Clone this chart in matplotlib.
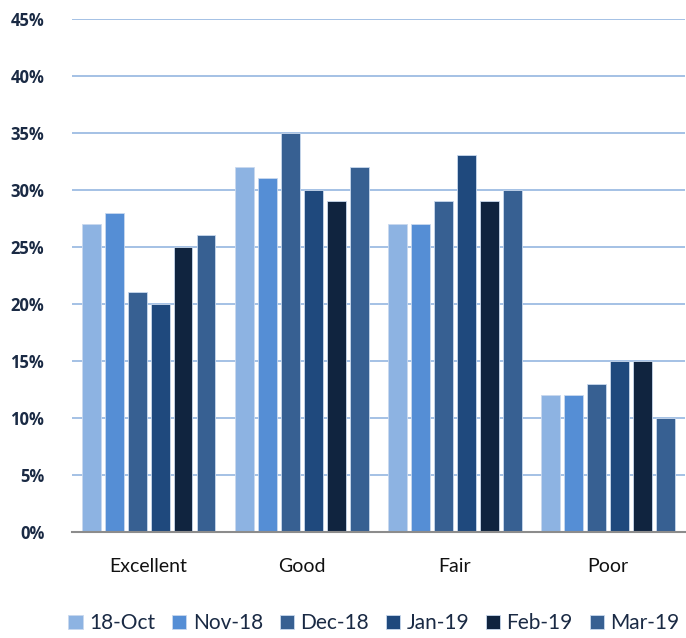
import numpy as np
import matplotlib
matplotlib.use('Agg')
import matplotlib.pyplot as plt

plt.rcParams['font.family'] = ['Lato', 'DejaVu Sans']

categories = ['Excellent', 'Good', 'Fair', 'Poor']
months = ['18-Oct', 'Nov-18', 'Dec-18', 'Jan-19', 'Feb-19', 'Mar-19']
values = [
    [27, 32, 27, 12],  # 18-Oct
    [28, 31, 27, 12],  # Nov-18
    [21, 35, 29, 13],  # Dec-18
    [20, 30, 33, 15],  # Jan-19
    [25, 29, 29, 15],  # Feb-19
    [26, 32, 30, 10],  # Mar-19
]
colors = ['#8db3e2', '#558ed5', '#376092', '#1f497d', '#10243f', '#376092']

fig = plt.figure(figsize=(6.86, 6.38), dpi=100)
ax = fig.add_axes([0.105, 0.166, 0.893, 0.805])

x = np.arange(len(categories))
n = len(months)
slot = 0.9 / n
bw = slot * 0.82
for i in range(n):
    ax.bar(x + (i - (n - 1) / 2) * slot, np.array(values[i]) / 100.0, bw,
           color=colors[i], edgecolor='#c9d9ee', linewidth=0.6,
           label=months[i], zorder=3)

ax.set_ylim(0, 0.45)
ax.set_xlim(-0.5, len(categories) - 0.5)
yt = np.arange(0, 0.451, 0.05)
ax.set_yticks(yt)
ax.set_yticklabels(['{}%'.format(int(round(v * 100))) for v in yt],
                   fontsize=12, fontweight='bold', color='#1a2a44',
                   family=['Open Sans', 'DejaVu Sans'])
ax.set_xticks(x)
ax.set_xticklabels(categories, fontsize=14, color='#111111')
ax.tick_params(axis='both', length=0)
ax.tick_params(axis='x', pad=19)
ax.tick_params(axis='y', pad=20)
ax.grid(axis='y', color='#95b6e0', linewidth=1.2, zorder=0)
for s in ['top', 'right', 'left']:
    ax.spines[s].set_visible(False)
ax.spines['bottom'].set_color('#8c8c8c')
ax.spines['bottom'].set_linewidth(1.5)
ax.spines['bottom'].set_zorder(4)

leg = fig.legend(loc='lower center', ncol=6, bbox_to_anchor=(0.545, -0.022),
                 frameon=False, fontsize=15, handlelength=0.7, handleheight=0.7,
                 handletextpad=0.3, columnspacing=0.8)
for t in leg.get_texts():
    t.set_color('#1a2a44')

fig.savefig('out.png', dpi=100)
